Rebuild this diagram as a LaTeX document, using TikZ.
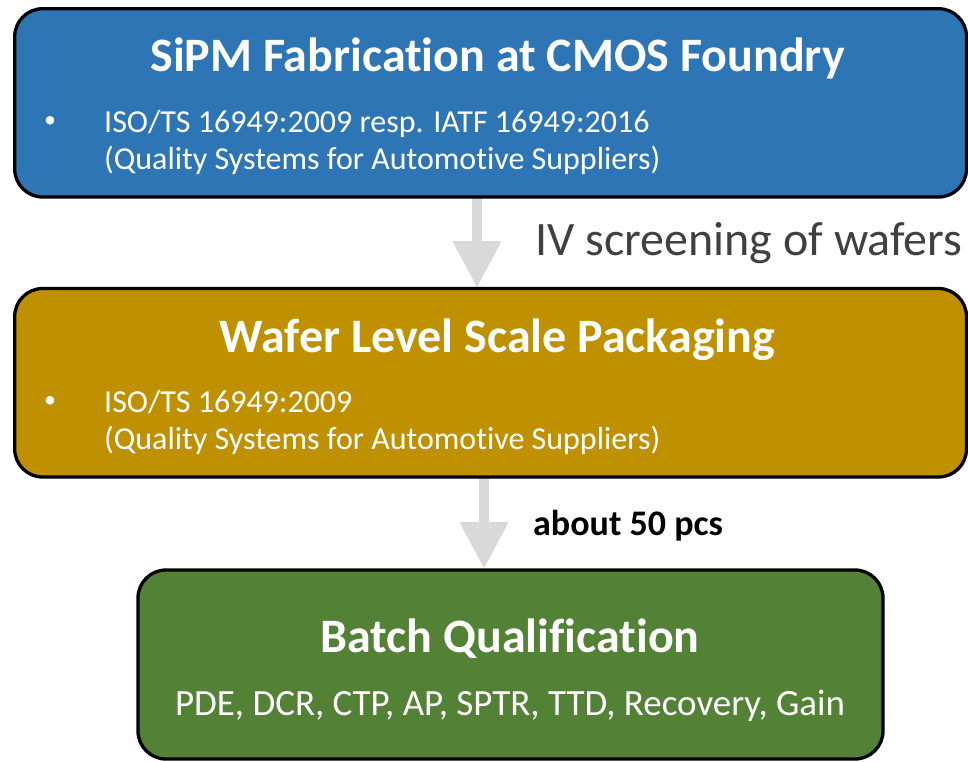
\documentclass[tikz,border=0pt]{standalone}
\usepackage{fontspec}
\setmainfont{Carlito}[Ligatures={NoCommon}]
\usetikzlibrary{arrows.meta}
\definecolor{blueC}{HTML}{2E75B6}
\definecolor{goldC}{HTML}{BF9000}
\definecolor{greenC}{HTML}{538135}
\definecolor{arrowC}{HTML}{D9D9D9}
\definecolor{textG}{HTML}{404040}
\tikzset{
  stagebox/.style={draw=black, line width=3.3pt, rounded corners=28pt, inner sep=0pt},
  titletxt/.style={anchor=base, text=white, font=\fontsize{48}{56}\selectfont\bfseries, inner sep=0pt},
  bullettxt/.style={anchor=base west, text=white, font=\fontsize{32}{38}\selectfont, inner sep=0pt},
  bulletdot/.style={anchor=base west, text=white, font=\fontsize{24}{28}\selectfont, inner sep=0pt},
  blockarrow/.style={draw=arrowC, line width=10.7pt, -{Triangle[width=46pt,length=47pt]}},
}
\begin{document}
\begin{tikzpicture}[x=1pt,y=-1pt]
\useasboundingbox (0,0) rectangle (968,761);
% arrows first
\coordinate (a1s) at (477,196);
\coordinate (a1e) at (477,288);
\coordinate (a2s) at (484,476);
\coordinate (a2e) at (484,569);
\draw[blockarrow] (a1s) -- (a1e);
\draw[blockarrow] (a2s) -- (a2e);
% boxes
\node[stagebox, fill=blueC, minimum width=951.8pt, minimum height=188.3pt] (fab) at (490.6,102.85) {};
\node[stagebox, fill=goldC, minimum width=951.8pt, minimum height=188.5pt] (wlp) at (490.6,382.75) {};
\node[stagebox, fill=greenC, minimum width=745pt, minimum height=189pt] (bq) at (510.5,664.5) {};
% texts box 1
\node[titletxt] (t1) at (497.5,71) {SiPM Fabrication at CMOS Foundry};
\node[bulletdot] (b1) at (44,127) {•};
\node[bullettxt] (l11) at (104,132) {ISO/TS 16949:2009 resp. IATF 16949:2016};
\node[bullettxt] (l12) at (104,169) {(Quality Systems for Automotive Suppliers)};
% label 1
\node[anchor=base west, text=textG, font=\fontsize{48}{56}\selectfont, inner sep=0pt] (iv) at (535,255) {IV screening of wafers};
% texts box 2
\node[titletxt] (t2) at (497.5,352) {Wafer Level Scale Packaging};
\node[bulletdot] (b2) at (44,407) {•};
\node[bullettxt] (l21) at (104,412) {ISO/TS 16949:2009};
\node[bullettxt] (l22) at (104,449) {(Quality Systems for Automotive Suppliers)};
% label 2
\node[anchor=base west, text=black, font=\fontsize{36}{42}\selectfont\bfseries, inner sep=0pt] (pcs) at (533,535) {about 50 pcs};
% texts box 3
\node[titletxt] (t3) at (510,652) {Batch Qualification};
\node[anchor=base, text=white, font=\fontsize{37}{44}\selectfont, inner sep=0pt] (q) at (510,715) {PDE, DCR, CTP, AP, SPTR, TTD, Recovery, Gain};
\end{tikzpicture}
\end{document}
